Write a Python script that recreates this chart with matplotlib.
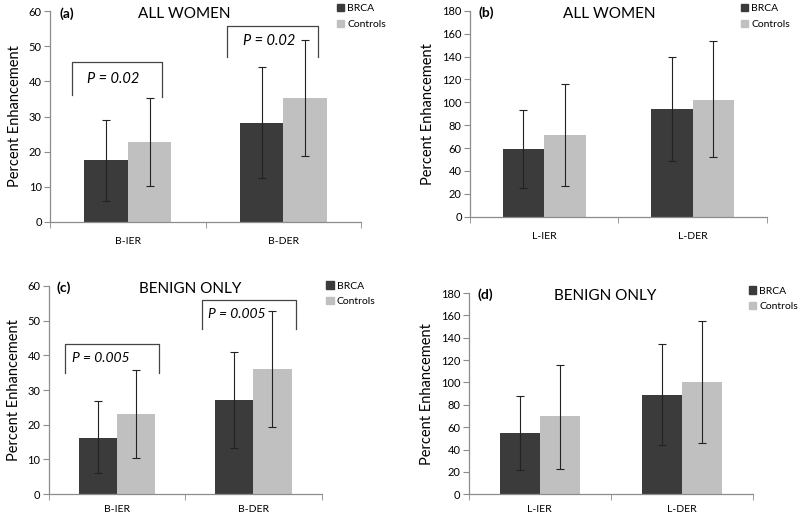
import matplotlib
matplotlib.use("Agg")
import matplotlib.pyplot as plt
import numpy as np
from matplotlib.patches import Patch

plt.rcParams['font.family'] = ['Lato', 'DejaVu Sans']

groups = ['BRCA', 'Controls']
colors = ['#3b3b3b', '#c0c0c0']

# panel (a) all women, breast
cats_a = ['B-IER', 'B-DER']
mean_a = [[17.6, 28.3], [22.7, 35.2]]
lo_a = [[6.0, 12.6], [10.3, 18.7]]
hi_a = [[29.0, 44.2], [35.2, 51.8]]
brk_a = [[45.5, 36.0, 35.5], [55.7, 47.0, 47.0]]   # top, left leg end, right leg end
ptxt_a = ['P = 0.02', 'P = 0.02']

# panel (b) all women, lesion
cats_b = ['L-IER', 'L-DER']
mean_b = [[59, 94], [71, 102]]
lo_b = [[25, 49], [27, 52]]
hi_b = [[93, 140], [116, 154]]

# panel (c) benign only, breast
cats_c = ['B-IER', 'B-DER']
mean_c = [[16.3, 27.0], [23.0, 36.0]]
lo_c = [[6.0, 13.3], [10.5, 19.3]]
hi_c = [[26.8, 41.0], [35.7, 52.7]]
brk_c = [[43.3, 35.0, 35.0], [56.0, 47.6, 47.6]]
ptxt_c = ['P = 0.005', 'P = 0.005']

# panel (d) benign only, lesion
cats_d = ['L-IER', 'L-DER']
mean_d = [[55, 89], [70, 100]]
lo_d = [[22, 44], [23, 46]]
hi_d = [[88, 134], [116, 155]]

fig = plt.figure(figsize=(8, 5.17), dpi=100)
axc = '#8c8c8c'


def bar_panel(rect, cats, means, lows, highs, ymax, ystep, tag, title, title_x, leg_xy, xpad):
    ax = fig.add_axes(rect)
    x = np.arange(len(cats))
    w = 0.28
    for i, g in enumerate(groups):
        m = np.array(means[i], dtype=float)
        err = [m - np.array(lows[i]), np.array(highs[i]) - m]
        ax.bar(x + (i - 0.5) * w, m, w, color=colors[i], label=g, zorder=2)
        ax.errorbar(x + (i - 0.5) * w, m, yerr=err, fmt='none', ecolor='#222222',
                    elinewidth=0.8, capsize=3, capthick=0.8, zorder=3)
    ax.set_xlim(-0.5, len(cats) - 0.5)
    ax.set_ylim(0, ymax)
    ax.set_yticks(np.arange(0, ymax + 1, ystep))
    ax.set_xticks(x)
    ax.set_xticklabels(cats, fontsize=7.5)
    ax.set_xticks(np.arange(-0.5, len(cats), 1.0), minor=True)
    ax.tick_params(axis='x', which='major', length=0, pad=xpad)
    ax.tick_params(axis='x', which='minor', length=4, color=axc, direction='out')
    ax.tick_params(axis='y', length=4, color=axc, labelsize=8, pad=2)
    for s in ['top', 'right']:
        ax.spines[s].set_visible(False)
    for s in ['left', 'bottom']:
        ax.spines[s].set_color(axc)
        ax.spines[s].set_linewidth(0.9)
    ax.set_ylabel('Percent Enhancement', fontsize=10.5, labelpad=5)
    ax.text(0.03, 0.99, tag, transform=ax.transAxes, fontsize=10, fontweight='bold',
            ha='left', va='center')
    ax.text(title_x, 0.985, title, transform=ax.transAxes, fontsize=11,
            ha='center', va='center')
    handles = [Patch(color=c) for c in colors]
    fig.legend(handles, groups, loc='upper left', bbox_to_anchor=leg_xy, frameon=False,
               fontsize=7.5, handlelength=0.7, handleheight=0.7, handletextpad=0.3,
               labelspacing=0.6, borderaxespad=0, borderpad=0)
    return ax


def bracket(ax, cat, left, right, ys, txt, tx, fs):
    top, ly, ry = ys
    ax.plot([cat + left, cat + left, cat + right, cat + right], [ly, top, top, ry],
            color='#444444', lw=0.9, clip_on=False, zorder=4)
    ax.text(cat + tx, (top + max(ly, ry)) / 2, txt, fontsize=fs, style='italic',
            ha='left', va='center')


ax_a = bar_panel([0.0625, 0.5706, 0.389, 0.408], cats_a, mean_a, lo_a, hi_a, 60, 10,
                 '(a)', 'ALL WOMEN', 0.43, (0.421, 0.992), 11)
for k in range(2):
    bracket(ax_a, k, -0.36, 0.22, brk_a[k], ptxt_a[k], -0.26, 10.5)

bar_panel([0.5875, 0.581, 0.371, 0.398], cats_b, mean_b, lo_b, hi_b, 180, 20,
          '(b)', 'ALL WOMEN', 0.47, (0.926, 0.992), 11)

ax_c = bar_panel([0.061, 0.0441, 0.341, 0.403], cats_c, mean_c, lo_c, hi_c, 60, 10,
                 '(c)', 'BENIGN ONLY', 0.52, (0.408, 0.456), 8)
for k in range(2):
    bracket(ax_c, k, -0.38, 0.31, brk_c[k], ptxt_c[k], -0.33, 10)

bar_panel([0.586, 0.0441, 0.355, 0.389], cats_d, mean_d, lo_d, hi_d, 180, 20,
          '(d)', 'BENIGN ONLY', 0.48, (0.936, 0.446), 8)

fig.savefig('out.png', dpi=100)
